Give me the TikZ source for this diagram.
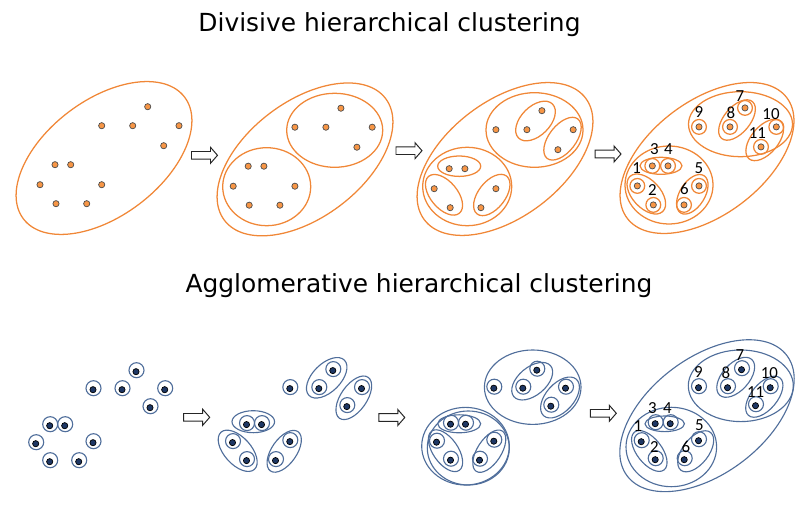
\documentclass[tikz,border=0pt]{standalone}
\usepackage{fontspec}
\setmainfont{DejaVu Sans}
\newfontfamily\numfont{Carlito}
\usepackage{tikz}
\definecolor{divorange}{RGB}{240,135,55}
\definecolor{dotorange}{RGB}{247,150,70}
\definecolor{aggblue}{RGB}{80,110,155}
\definecolor{dotblue}{RGB}{30,55,100}

% point layouts (first panel of each row)
\newcommand{\toplayout}{1/40/184.7, 2/56/203.7, 3/55/164.7, 4/70.7/164.7, 5/101.7/184.7, 6/86.7/203.7, 7/147.7/106.7, 8/132.7/125.7, 9/101.7/125.7, 10/179/125.7, 11/163.7/145.7}
\newcommand{\botlayout}{1/35.7/443.7, 2/49.7/461.7, 3/49.7/425.7, 4/64.7/425.7, 5/93/442.7, 6/78.7/461.7, 7/136/371.7, 8/122/389.7, 9/93/389.7, 10/164.7/389.7, 11/150/407.7}

\tikzset{
	divline/.style={draw=divorange, line width=0.9pt},
	aggline/.style={draw=aggblue, line width=0.8pt},
	divdot/.style={circle, draw=black!70, fill=dotorange, line width=0.5pt, inner sep=0pt, minimum size=4.4pt},
	aggdot/.style={circle, draw=black, fill=dotblue, line width=0.5pt, inner sep=0pt, minimum size=4.4pt},
	flowarrow/.style={draw=black!85, fill=white, line width=0.7pt, line join=miter},
	numlabel/.style={font=\numfont\fontsize{12}{12}\selectfont, inner sep=0pt},
	heading/.style={font=\fontsize{17.7}{20}\selectfont, inner sep=0pt, anchor=base}
}

% hollow block arrow centred at (#1,#2)
\newcommand{\flowarrowat}[2]{%
	\draw[flowarrow, shift={(#1,#2)}] (-13,-3.8) -- (6,-3.8) -- (6,-8) -- (13,0) -- (6,8) -- (6,3.8) -- (-13,3.8) -- cycle;}

\begin{document}
\begin{tikzpicture}[x=0.025cm, y=-0.025cm]
	\useasboundingbox (0,0) rectangle (800,510);

	% titles
	\node[heading] (divtitle) at (389.5,31.7) {Divisive hierarchical clustering};
	\node[heading] (aggtitle) at (419,292) {Agglomerative hierarchical clustering};

	% --- divisive row ---
	\foreach \p/\dx/\dy in {1/0/0, 2/193.2/1.5, 3/394.2/4, 4/597.3/1.2}
		\foreach \n/\x/\y in \toplayout
			\node[divdot] (t\p-\n) at (\x+\dx,\y+\dy) {};

	% panel 1
	\draw[divline] (104,158) circle[x radius=101, y radius=58, rotate=37];
	% panel 2
	\draw[divline] (305,159.4) circle[x radius=101, y radius=58, rotate=37];
	\draw[divline] (334.7,130.3) circle[x radius=48, y radius=37];
	\draw[divline] (266.7,186.7) circle[x radius=44, y radius=39];
	% panel 3
	\draw[divline] (505,159) circle[x radius=101, y radius=58, rotate=37];
	\draw[divline] (534.5,130) circle[x radius=48.5, y radius=37.3];
	\draw[divline] (467.2,186.5) circle[x radius=44.5, y radius=39.2];
	\draw[divline] (535.5,121) circle[x radius=24, y radius=14.5, rotate=45];
	\draw[divline] (562.5,138.7) circle[x radius=25, y radius=13.5, rotate=52];
	\draw[divline] (459.2,166.2) circle[x radius=21.5, y radius=10.2];
	\draw[divline] (444,194.8) circle[x radius=24, y radius=13.5, rotate=-50];
	\draw[divline] (491.8,195) circle[x radius=24, y radius=13.5, rotate=52];
	% panel 4
	\draw[divline] (707,158) circle[x radius=100, y radius=57, rotate=37];
	\draw[divline] (740.5,124.2) circle[x radius=52, y radius=32.5];
	\draw[divline] (669,185) circle[x radius=44, y radius=39];
	\draw[divline] (737,120) circle[x radius=24, y radius=13, rotate=50];
	\draw[divline] (764.7,140) circle[x radius=24.5, y radius=13.5, rotate=50];
	\draw[divline] (661,165.8) circle[x radius=21, y radius=8.5];
	\draw[divline] (646.3,194) circle[x radius=24, y radius=14, rotate=-47];
	\draw[divline] (692.3,194.3) circle[x radius=22, y radius=12.5, rotate=58];
	\foreach \n in {1,...,11}
		\draw[divline] (t4-\n) circle (7.4);

	% numbers
	\foreach \n/\x/\y in {1/636.7/168.3, 2/652.3/190, 3/654.3/149.3, 4/668.3/149.3, 5/699/167.7, 6/684.3/188.7, 7/740/96, 8/731/112.7, 9/699/111.7, 10/771/114.3, 11/757.3/133.3}
		\node[numlabel] (tl-\n) at (\x,\y) {\n};

	% --- agglomerative row ---
	\foreach \p/\dx/\dy in {1/0/0, 2/196.8/-1.1, 3/400.8/-1.5, 4/605.5/-2}
		\foreach \n/\x/\y in \botlayout {
			\node[aggdot] (b\p-\n) at (\x+\dx,\y+\dy) {};
			\draw[aggline] ([shift={(0.5,-1.5)}]b\p-\n.center) circle (7.5);
		}

	% panel 2
	\draw[aggline] (326.7,377.8) circle[x radius=25, y radius=14, rotate=45];
	\draw[aggline] (353.8,397.8) circle[x radius=25, y radius=13, rotate=55];
	\draw[aggline] (253.3,421.7) circle[x radius=21.3, y radius=11];
	\draw[aggline] (237.7,450.8) circle[x radius=25, y radius=13.5, rotate=-48];
	\draw[aggline] (284.2,451.3) circle[x radius=24, y radius=12.5, rotate=55];
	% panel 3
	\draw[aggline] (532.7,387.2) circle[x radius=48.3, y radius=37.2];
	\draw[aggline] (465.5,446.2) circle[x radius=43.8, y radius=38.8];
	\draw[aggline] (468.3,448) circle[x radius=41, y radius=37];
	\draw[aggline] (532.2,381.2) circle[x radius=24, y radius=14, rotate=40];
	\draw[aggline] (560,397.5) circle[x radius=24.5, y radius=14, rotate=48];
	\draw[aggline] (459.2,423.8) circle[x radius=21.5, y radius=9];
	\draw[aggline] (445.5,450.7) circle[x radius=24, y radius=12.5, rotate=-55];
	\draw[aggline] (489.3,451.2) circle[x radius=24, y radius=12, rotate=57];
	% panel 4
	\draw[aggline] (707,415.7) circle[x radius=100, y radius=58, rotate=37];
	\draw[aggline] (740.8,385.8) circle[x radius=52.5, y radius=35.8];
	\draw[aggline] (671.3,447) circle[x radius=45.3, y radius=39.7];
	\draw[aggline] (735.7,377.3) circle[x radius=24, y radius=13.5, rotate=48];
	\draw[aggline] (764.3,396.7) circle[x radius=24.5, y radius=13, rotate=50];
	\draw[aggline] (664.7,423.8) circle[x radius=19.7, y radius=7.8];
	\draw[aggline] (649.3,451) circle[x radius=24, y radius=12.5, rotate=-52];
	\draw[aggline] (695.7,451.3) circle[x radius=24, y radius=13, rotate=52];

	% numbers
	\foreach \n/\x/\y in {1/638/426, 2/654.3/447.3, 3/652.3/408.3, 4/667.3/408.3, 5/699.3/425.3, 6/686/447, 7/740/355, 8/726/372.7, 9/698.3/372, 10/769.3/373.3, 11/755.7/392}
		\node[numlabel] (bl-\n) at (\x,\y) {\n};

	% block arrows between panels
	\flowarrowat{204.5}{155.3}
	\flowarrowat{409}{150.7}
	\flowarrowat{608}{154}
	\flowarrowat{196.7}{417.3}
	\flowarrowat{391.8}{417.5}
	\flowarrowat{603.3}{413.3}
\end{tikzpicture}
\end{document}
